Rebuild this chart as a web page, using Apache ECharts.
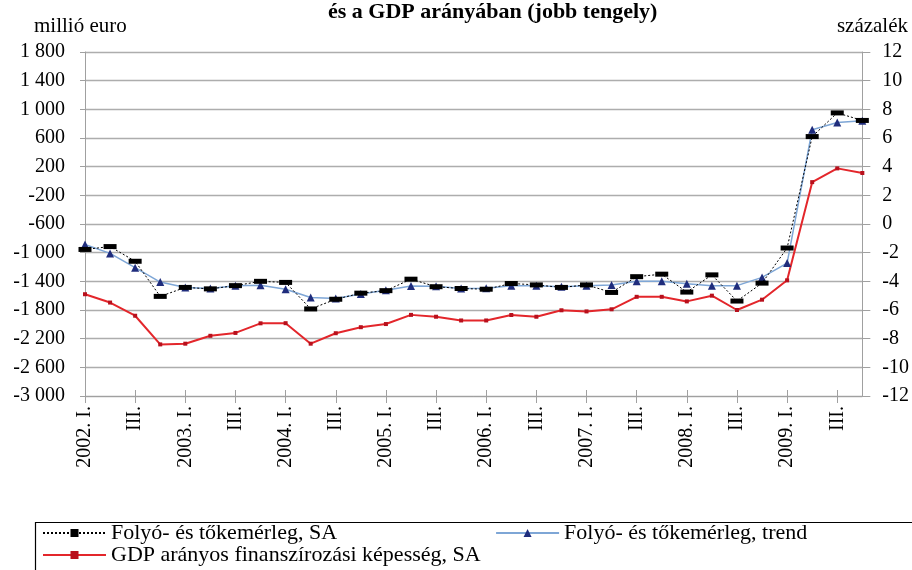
<!doctype html>
<html lang="hu" style="height: 100%">
    <head>
        <meta charset="utf-8">
        <title>Folyó- és tőkemérleg</title>
        <script src="https://cdn.jsdelivr.net/npm/echarts@6/dist/echarts.min.js"></script>
        <style>
            body { margin: 0; background: #fff; }
            #draw { width: 912px; height: 570px; }
        </style>
    </head>
    <body>
        <div id="draw"></div>
        <script>
            // negyedévek 2002 I. - 2009 IV.
            const quarters = [
                '2002. I.', 'II.', 'III.', 'IV.',
                '2003. I.', 'II.', 'III.', 'IV.',
                '2004. I.', 'II.', 'III.', 'IV.',
                '2005. I.', 'II.', 'III.', 'IV.',
                '2006. I.', 'II.', 'III.', 'IV.',
                '2007. I.', 'II.', 'III.', 'IV.',
                '2008. I.', 'II.', 'III.', 'IV.',
                '2009. I.', 'II.', 'III.', 'IV.'
            ]
            // millió euro (bal tengely)
            const balanceSA = [
                -955, -915, -1120, -1610, -1485, -1505, -1460, -1400,
                -1415, -1785, -1650, -1565, -1530, -1370, -1475, -1500,
                -1510, -1430, -1450, -1485, -1450, -1555, -1335, -1300,
                -1550, -1310, -1675, -1425, -935, 620, 950, 845
            ]
            const balanceTrend = [
                -885, -1010, -1210, -1410, -1485, -1500, -1460, -1455,
                -1510, -1625, -1638, -1578, -1525, -1465, -1470, -1500,
                -1495, -1460, -1460, -1475, -1460, -1450, -1400, -1400,
                -1433, -1460, -1460, -1345, -1145, 715, 815, 840
            ]
            // százalék (jobb tengely)
            const gdpRatio = [
                -4.9, -5.48, -6.4, -8.4, -8.35, -7.8, -7.6, -6.93,
                -6.92, -8.35, -7.62, -7.2, -6.98, -6.34, -6.47, -6.73,
                -6.73, -6.35, -6.47, -6.02, -6.1, -5.95, -5.08, -5.08,
                -5.4, -5.0, -6.0, -5.28, -3.93, 2.92, 3.88, 3.56
            ]
            const names = [
                'Folyó- és tőkemérleg, SA',
                'Folyó- és tőkemérleg, trend',
                'GDP arányos finanszírozási képesség, SA'
            ]

            const serif = '"Liberation Serif", "DejaVu Serif", serif'

            // ezres tagolás szóközzel
            function fmt(v) {
                const a = Math.abs(v)
                const s = a >= 1000 ? Math.floor(a / 1000) + ' ' + String(a % 1000).padStart(3, '0') : String(a)
                return (v < 0 ? '-' : '') + s
            }

            const gridColor = '#adadad'
            const axisColor = '#a0a0a0'
            const legendText = { fontFamily: serif, fontSize: 22, color: '#000' }

            var myChart = echarts.init(document.getElementById('draw'))
            var option = {
                animation: false,
                textStyle: { fontFamily: serif, color: '#000' },
                graphic: [
                    { type: 'text', left: 328, top: 1, style: { text: 'és a GDP arányában (jobb tengely)', font: 'bold 22px ' + serif, fill: '#000' } },
                    { type: 'text', left: 34, top: 16, style: { text: 'millió euro', font: '21px ' + serif, fill: '#000' } },
                    { type: 'text', right: 4, top: 16, style: { text: 'százalék', font: '21px ' + serif, fill: '#000' } },
                    { type: 'rect', left: 33, top: 520, shape: { width: 900, height: 60 }, style: { fill: 'none', stroke: '#000', lineWidth: 1.2 } }
                ],
                grid: { left: 85, right: 49, top: 52, bottom: 174 },
                legend: [{
                    data: [names[0], names[1]],
                    left: 42,
                    top: 522,
                    itemWidth: 63,
                    itemHeight: 10,
                    itemGap: 158,
                    padding: 0,
                    textStyle: legendText
                }, {
                    data: [names[2]],
                    left: 42,
                    top: 544,
                    itemWidth: 63,
                    itemHeight: 10,
                    padding: 0,
                    textStyle: legendText
                }],
                xAxis: [{
                    type: 'category',
                    data: quarters,
                    boundaryGap: false,
                    axisLine: { onZero: false, lineStyle: { color: axisColor } },
                    axisTick: { interval: 1, length: 7, lineStyle: { color: axisColor } },
                    axisLabel: { interval: 1, rotate: 90, margin: 10, fontSize: 20, fontFamily: serif, color: '#000' },
                    splitLine: { show: false }
                }, {
                    type: 'category',
                    data: quarters,
                    boundaryGap: false,
                    position: 'bottom',
                    axisLine: { show: false, onZero: false },
                    axisTick: { inside: true, interval: 1, length: 6, lineStyle: { color: axisColor } },
                    axisLabel: { show: false },
                    splitLine: { show: false }
                }],
                yAxis: [{
                    type: 'value',
                    min: -3000,
                    max: 1800,
                    interval: 400,
                    axisLine: { show: true, lineStyle: { color: axisColor } },
                    axisTick: { show: true, length: 5, lineStyle: { color: axisColor } },
                    axisLabel: { formatter: fmt, margin: 20, fontSize: 20, fontFamily: serif, color: '#000' },
                    splitLine: { show: true, lineStyle: { color: gridColor, width: 1.3 } }
                }, {
                    type: 'value',
                    min: -12,
                    max: 12,
                    interval: 2,
                    position: 'right',
                    axisLine: { show: true, lineStyle: { color: axisColor } },
                    axisTick: { show: true, length: 8, lineStyle: { color: axisColor } },
                    axisLabel: { margin: 20, fontSize: 20, fontFamily: serif, color: '#000' },
                    splitLine: { show: false }
                }],
                series: [{
                    name: names[1],
                    type: 'line',
                    data: balanceTrend,
                    yAxisIndex: 0,
                    symbol: 'triangle',
                    symbolSize: 8,
                    lineStyle: { color: '#7ea6d6', width: 1.5 },
                    itemStyle: { color: '#1f2c7c' },
                    z: 2
                }, {
                    name: names[2],
                    type: 'line',
                    data: gdpRatio,
                    yAxisIndex: 1,
                    symbol: 'rect',
                    symbolSize: 4,
                    lineStyle: { color: '#e3262b', width: 2 },
                    itemStyle: { color: '#b8101c' },
                    z: 2
                }, {
                    name: names[0],
                    type: 'line',
                    data: balanceSA,
                    yAxisIndex: 0,
                    symbol: 'rect',
                    symbolSize: [13, 5],
                    lineStyle: { color: '#000', width: 1, type: [2, 2] },
                    itemStyle: { color: '#000' },
                    z: 3
                }]
            }
            option && myChart.setOption(option)
        </script>
    </body>
</html>
